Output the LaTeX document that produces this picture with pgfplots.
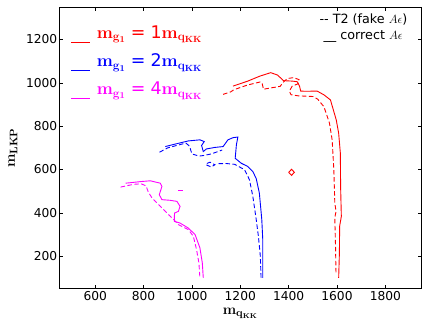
\documentclass[border=0pt]{standalone}
\usepackage[no-math]{fontspec}
\setmainfont{DejaVu Sans}
\usepackage{pgfplots}
\pgfplotsset{compat=1.18}
\definecolor{pr}{rgb}{1,0,0}
\definecolor{pb}{rgb}{0,0,1}
\definecolor{pm}{rgb}{1,0,1}
\begin{document}
\begin{tikzpicture}
\begin{axis}[
  scale only axis, width=363bp, height=282bp,
  xmin=450, xmax=1950, ymin=50, ymax=1350,
  xtick={600,800,...,1800}, ytick={200,400,...,1200},
  tick align=inside, major tick length=4bp, tick pos=both,
  axis line style={line width=0.8bp},
  tick style={black, line width=0.6bp},
  /pgf/number format/assume math mode=true,
  /pgf/number format/1000 sep={},
  tick label style={font=\fontsize{12.3}{14}\selectfont},
  yticklabel style={inner xsep=1.5bp},
  xticklabel style={inner ysep=2bp},
  xlabel={$\mathbf{m_{q_{KK}}}$}, ylabel={$\mathbf{m_{LKP}}$},
  label style={font=\fontsize{15}{17}\selectfont},
  xlabel style={at={(axis description cs:0.5,-0.0922)}, anchor=base},
  ylabel style={at={(axis description cs:-0.1267,0.5)}, anchor=center},
  every axis plot/.append style={line width=0.9bp},
  dashstyle/.style={dash pattern=on 4.5bp off 2.5bp},
]
% ---- m_g1 = 1 m_qKK (red)
\addplot[pr] coordinates {(1170,985) (1231,1008) (1281,1031) (1326,1047) (1354,1036) (1379,1010) (1416,1008) (1436,1005) (1445,985) (1450,962) (1470,961) (1518,962) (1547,944) (1573,921) (1597,829) (1607,767) (1614,675) (1615,522) (1618,384) (1611,338) (1610,215) (1607,100)};
\addplot[pr,dashstyle] coordinates {(1129,947) (1160,958) (1173,968) (1230,990) (1282,1004) (1290,1000) (1296,970) (1303,972) (1365,984) (1378,1003) (1395,1020) (1420,1024) (1443,1015) (1438,995) (1415,985) (1403,962) (1410,945) (1440,940) (1500,937) (1520,925) (1546,890) (1569,814) (1580,737) (1587,599) (1591,446) (1596,407) (1591,377) (1594,246) (1596,116)};
\addplot[pr] coordinates {(1400,587) (1412,601) (1424,587) (1412,573) (1400,587)};
% ---- m_g1 = 2 m_qKK (blue)
\addplot[pb] coordinates {(890,706) (944,721) (985,732) (1033,737) (1051,729) (1040,711) (1047,683) (1060,695) (1095,702) (1129,706) (1149,737) (1170,747) (1190,750) (1184,714) (1179,652) (1204,629) (1231,614) (1252,591) (1266,558) (1279,491) (1289,369) (1293,277) (1293,100)};
\addplot[pb,dashstyle] coordinates {(866,680) (900,700) (940,712) (975,722) (990,708) (1000,672) (1030,662) (1050,665) (1080,672) (1108,683) (1125,690)};
\addplot[pb,dashstyle] coordinates {(1062,628) (1075,634) (1095,622) (1080,612) (1062,620) (1062,628)};
\addplot[pb,dashstyle] coordinates {(1110,627) (1140,628) (1177,624) (1218,599) (1238,553) (1252,476) (1266,369) (1275,292) (1283,200) (1286,100)};
% ---- m_g1 = 4 m_qKK (magenta)
\addplot[pm] coordinates {(726,537) (794,545) (828,548) (869,537) (876,522) (865,484) (876,461) (910,458) (938,453) (951,430) (944,407) (928,399) (927,361) (951,353) (985,330) (1013,300) (1033,239) (1043,169) (1047,100)};
\addplot[pm,dashstyle] coordinates {(705,519) (726,524) (760,532) (790,534) (810,525) (820,495) (835,469) (862,438) (883,415) (903,392) (925,369) (944,346) (985,323) (1006,292) (1019,231) (1029,169) (1033,100)};
\addplot[pm,dashstyle] coordinates {(944,504) (972,504)};
% ---- legend keys
\addplot[pr, line width=1.3bp] coordinates {(500,1187) (578,1187)};
\addplot[pb, line width=1.3bp] coordinates {(500,1057) (578,1057)};
\addplot[pm, line width=1.3bp] coordinates {(500,929) (578,929)};
% ---- legend text
\node[anchor=base west, text=pr, font=\fontsize{17.5}{19}\selectfont, inner sep=0pt] at (rel axis cs:0.104,0.889) {$\mathbf{m_{g_1}}$\hspace{5bp}=\hspace{5bp}1$\mathbf{m_{q_{KK}}}$};
\node[anchor=base west, text=pb, font=\fontsize{17.5}{19}\selectfont, inner sep=0pt] at (rel axis cs:0.104,0.788) {$\mathbf{m_{g_1}}$\hspace{5bp}=\hspace{5bp}2$\mathbf{m_{q_{KK}}}$};
\node[anchor=base west, text=pm, font=\fontsize{17.5}{19}\selectfont, inner sep=0pt] at (rel axis cs:0.104,0.689) {$\mathbf{m_{g_1}}$\hspace{5bp}=\hspace{5bp}4$\mathbf{m_{q_{KK}}}$};
\node[anchor=base east, font=\fontsize{12.8}{15}\selectfont, inner sep=0pt] at (rel axis cs:0.961,0.94) {-{}- T2 (fake $A\epsilon$)};
\node[anchor=base east, font=\fontsize{12.8}{15}\selectfont, inner sep=0pt] at (rel axis cs:0.948,0.883) {\_\_ correct $A\epsilon$};
\end{axis}
\pgfresetboundingbox
\path[use as bounding box] ([shift={(-59bp,-36bp)}]current axis.south west) rectangle ([shift={(0.4bp,7bp)}]current axis.north east);
\end{tikzpicture}
\end{document}
